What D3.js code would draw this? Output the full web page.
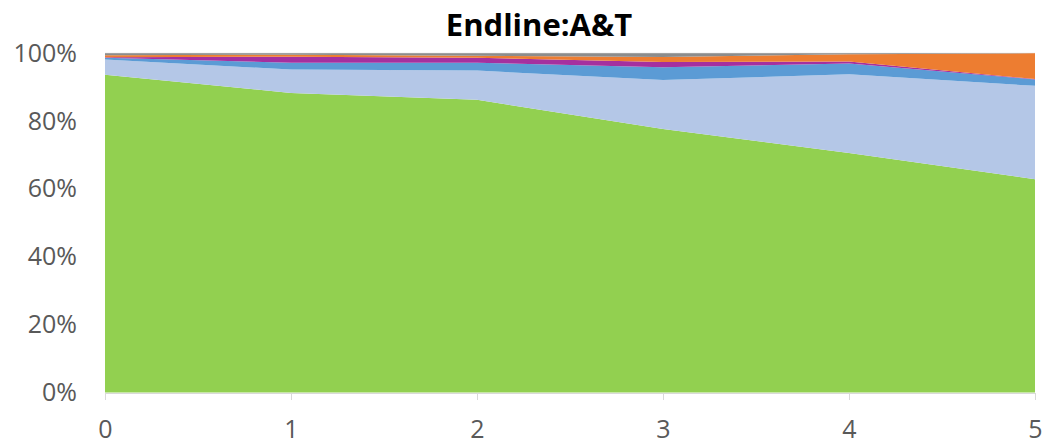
<!DOCTYPE html>
<html>
<head>
<meta charset="utf-8">
<script src="https://cdn.jsdelivr.net/npm/d3@7"></script>
<style>
  html, body { margin: 0; padding: 0; background: #fff; }
  svg { display: block; }
  text { font-family: "Open Sans", "Liberation Sans", sans-serif; }
</style>
</head>
<body>
<svg id="chart" width="1046" height="447"></svg>
<script>
// Survey rounds along the x axis
const rounds = [0, 1, 2, 3, 4, 5];

// Share (%) of each group per round, stacked from bottom to top
const groupA = [93.7, 88.3, 86.3, 77.7, 70.6, 62.9];
const groupB = [4.5, 6.9, 8.6, 14.4, 23.2, 27.5];
const groupC = [0.5, 2.0, 2.3, 3.8, 3.2, 1.9];
const groupD = [0.1, 1.8, 1.5, 1.5, 0.6, 0.1];
const groupE = [0.6, 0.6, 0.6, 1.5, 2.1, 7.6];
const groupF = [0.6, 0.4, 0.7, 1.1, 0.3, 0.0];

const seriesKeys = ["groupA", "groupB", "groupC", "groupD", "groupE", "groupF"];
const seriesValues = [groupA, groupB, groupC, groupD, groupE, groupF];
const seriesColors = ["#92d050", "#b4c7e7", "#5b9bd5", "#a5309f", "#ed7d31", "#8c8c8c"];

const yTickValues = [0, 0.2, 0.4, 0.6, 0.8, 1.0];

const titleText = "Endline:A&T";

// Build row table for d3.stack
const rows = rounds.map((r, i) => {
  const row = { round: r };
  seriesKeys.forEach((k, j) => { row[k] = seriesValues[j][i]; });
  return row;
});

const stacked = d3.stack()
  .keys(seriesKeys)
  .offset(d3.stackOffsetExpand)(rows);

const svg = d3.select("#chart");
const plotLeft = 105, plotRight = 1035, plotTop = 53.3, plotBottom = 392.5;

const x = d3.scaleLinear().domain(d3.extent(rounds)).range([plotLeft, plotRight]);
const y = d3.scaleLinear().domain([0, 1]).range([plotBottom, plotTop]);

const area = d3.area()
  .x(d => x(d.data.round))
  .y0(d => y(d[0]))
  .y1(d => y(d[1]));

// 100% gridline behind the areas
svg.append("line")
  .attr("x1", plotLeft).attr("x2", plotRight)
  .attr("y1", y(1)).attr("y2", y(1))
  .attr("stroke", "#d9d9d9").attr("stroke-width", 1);

svg.append("g")
  .selectAll("path")
  .data(stacked)
  .join("path")
  .attr("d", area)
  .attr("fill", (d, i) => seriesColors[i]);

// X axis: light grey baseline with outward ticks
const xAxis = d3.axisBottom(x)
  .tickValues(rounds)
  .tickFormat(d3.format("d"))
  .tickSizeInner(7)
  .tickSizeOuter(0)
  .tickPadding(20);

const gx = svg.append("g")
  .attr("transform", `translate(0,${plotBottom + 0.5})`)
  .call(xAxis);
gx.select(".domain").attr("stroke", "#d9d9d9").attr("stroke-width", 1);
gx.selectAll(".tick line").attr("stroke", "#d9d9d9");
gx.selectAll(".tick text")
  .attr("fill", "#595959")
  .style("font-size", "25px");

// Y axis: labels only
const yAxis = d3.axisLeft(y)
  .tickValues(yTickValues)
  .tickFormat(d3.format(".0%"))
  .tickSize(0)
  .tickPadding(28);

const gy = svg.append("g")
  .attr("transform", `translate(${plotLeft},0)`)
  .call(yAxis);
gy.select(".domain").remove();
gy.selectAll(".tick text")
  .attr("fill", "#595959")
  .style("font-size", "25px");

// Title
svg.append("text")
  .attr("x", 539)
  .attr("y", 36)
  .attr("text-anchor", "middle")
  .attr("fill", "#000")
  .style("font-size", "31px")
  .style("font-weight", "bold")
  .text(titleText);
</script>
</body>
</html>
